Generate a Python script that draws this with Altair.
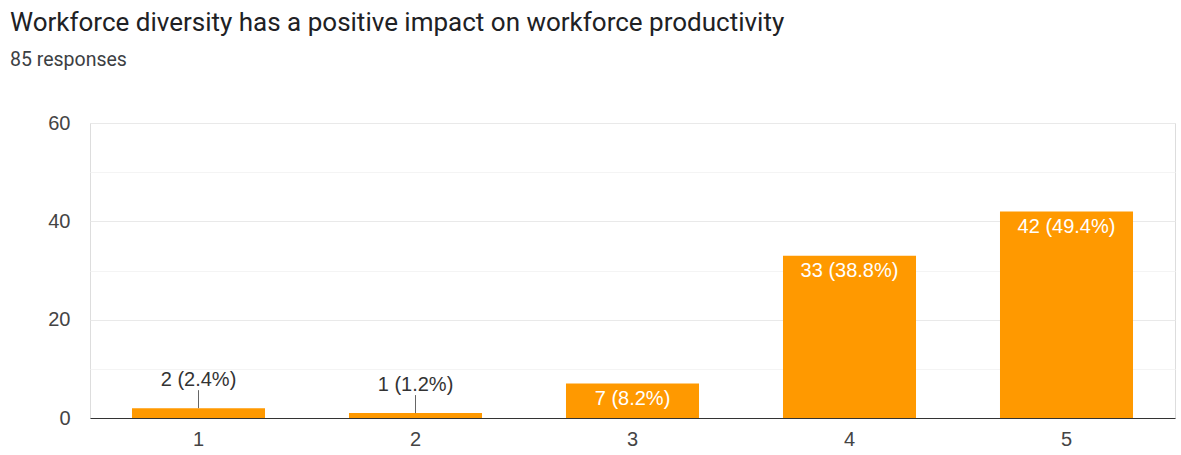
import altair as alt
import pandas as pd

ratings = ["1", "2", "3", "4", "5"]
counts = [2, 1, 7, 33, 42]
labels = ["2 (2.4%)", "1 (1.2%)", "7 (8.2%)", "33 (38.8%)", "42 (49.4%)"]

df = pd.DataFrame({"rating": ratings, "count": counts, "label": labels})

TFONT = "Roboto"
FONT = "Liberation Sans"
x = alt.X("rating:N", sort=ratings,
          scale=alt.Scale(paddingInner=0.387, paddingOuter=0.1935),
          axis=alt.Axis(title=None, labelAngle=0, ticks=False, labelPadding=11,
                        labelFontSize=20, labelColor="#444444", labelFont=FONT,
                        domainColor="#333333", domainWidth=1, grid=False))
y = alt.Y("count:Q", scale=alt.Scale(domain=[0, 60], nice=False),
          axis=alt.Axis(title=None, values=[0, 10, 20, 30, 40, 50, 60],
                        labelExpr="datum.value % 20 == 0 ? datum.label : ''",
                        ticks=False, domain=False, labelPadding=20,
                        labelFontSize=20, labelColor="#444444", labelFont=FONT,
                        gridColor={"condition": {"test": "datum.value % 20 == 0", "value": "#e9e9e9"},
                                   "value": "#f4f4f4"}))

base = alt.Chart(df)
bars = base.mark_bar(color="#FF9900").encode(x=x, y=y)
leaders = base.transform_filter("datum.count < 5").mark_rule(
    color="#666666", strokeWidth=1, y2Offset=-18).encode(
    x=alt.X("rating:N", sort=ratings), y="count:Q", y2="count:Q")
out_labels = base.transform_filter("datum.count < 5").mark_text(
    dy=-28, fontSize=20, font=FONT, color="#333333").encode(
    x=alt.X("rating:N", sort=ratings), y="count:Q", text="label:N")
in_labels = base.transform_filter("datum.count >= 5").mark_text(
    dy=15, fontSize=20, font=FONT, color="#ffffff").encode(
    x=alt.X("rating:N", sort=ratings), y="count:Q", text="label:N")

chart = alt.layer(bars, leaders, out_labels, in_labels).properties(
    width=1085, height=295,
    autosize=alt.AutoSizeParams(type="none"),
    padding={"left": 90, "top": 123, "right": 6, "bottom": 37},
    title=alt.TitleParams(
        text="Workforce diversity has a positive impact on workforce productivity",
        subtitle="85 responses",
        anchor="start", frame="group", dx=-80, dy=-40,
        font=TFONT, fontSize=26, fontWeight="normal", color="#202124",
        subtitleFont=TFONT, subtitleFontSize=19.5, subtitleColor="#3c4043",
        subtitlePadding=15),
).configure_view(stroke="#ebebeb", strokeWidth=1).configure(background="white")

chart.save("out.html", embed_options={"renderer": "svg", "actions": False})
